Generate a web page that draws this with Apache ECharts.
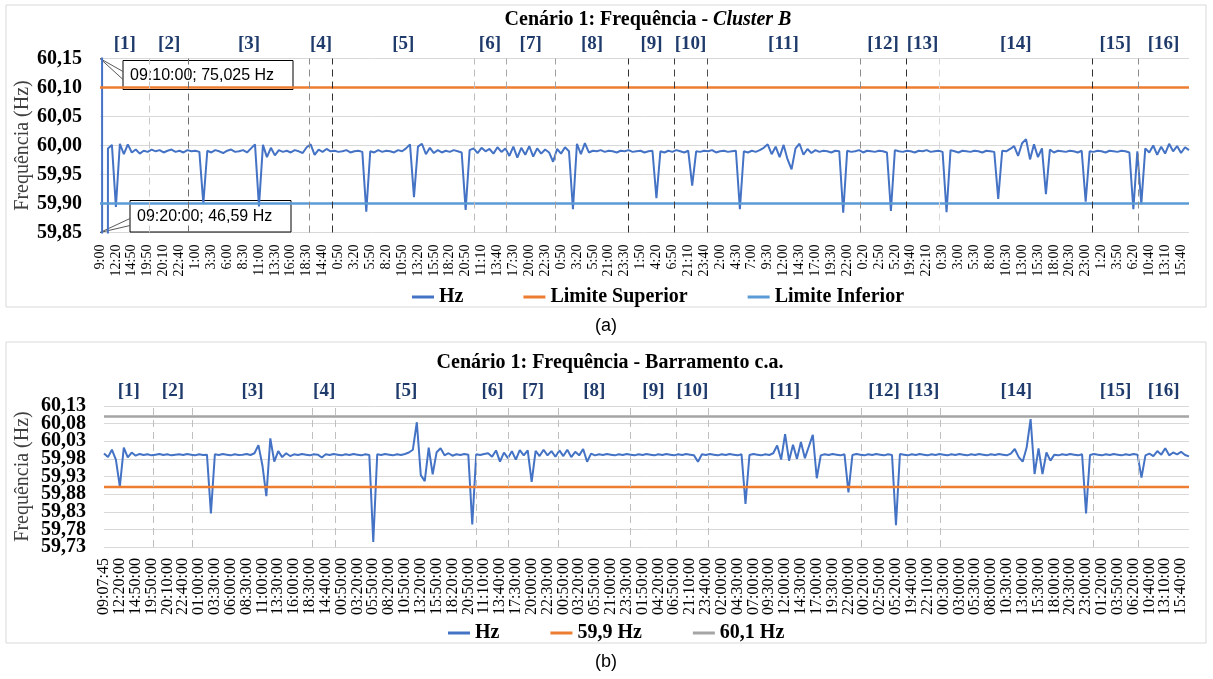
<!DOCTYPE html>
<html><head><meta charset="utf-8">
<script src="https://cdn.jsdelivr.net/npm/echarts@6/dist/echarts.min.js"></script>
<style>html,body{margin:0;padding:0;background:#fff}#c{width:1213px;height:679px}</style>
</head><body><div id="c"></div>
<script>
// ---------- DATA ----------
const tickLabelsA = ['9:00','12:20','14:50','19:50','20:10','22:40','1:00','3:30','6:00','8:30','11:00','13:30','16:00','18:30','14:40','0:50','3:20','5:50','8:20','10:50','13:20','15:50','18:20','20:50','11:10','13:40','17:30','20:00','22:30','0:50','3:20','5:50','21:00','23:30','1:50','4:20','6:50','21:10','23:40','2:00','4:30','7:00','9:30','12:00','14:30','17:00','19:30','22:00','0:20','2:50','5:20','19:40','22:10','0:30','3:00','5:30','8:00','10:30','13:00','15:30','18:00','20:30','23:00','1:20','3:50','6:20','10:40','13:10','15:40'];
const tickLabelsB = ['09:07:45','12:20:00','14:50:00','19:50:00','20:10:00','22:40:00','01:00:00','03:30:00','06:00:00','08:30:00','11:00:00','13:30:00','16:00:00','18:30:00','14:40:00','00:50:00','03:20:00','05:50:00','08:20:00','10:50:00','13:20:00','15:50:00','18:20:00','20:50:00','11:10:00','13:40:00','17:30:00','20:00:00','22:30:00','00:50:00','03:20:00','05:50:00','21:00:00','23:30:00','01:50:00','04:20:00','06:50:00','21:10:00','23:40:00','02:00:00','04:30:00','07:00:00','09:30:00','12:00:00','14:30:00','17:00:00','19:30:00','22:00:00','00:20:00','02:50:00','05:20:00','19:40:00','22:10:00','00:30:00','03:00:00','05:30:00','08:00:00','10:30:00','13:00:00','15:30:00','18:00:00','20:30:00','23:00:00','01:20:00','03:50:00','06:20:00','10:40:00','13:10:00','15:40:00'];
const samplesPerLabel = 4;
// y tick labels of panel (b), split in two interleaved sets
const yTicksB1 = [59.73, 59.83, 59.93, 60.03, 60.13];
const yTicksB2 = [59.78, 59.88, 59.98, 60.08];

// (a) Cluster B frequency (Hz)
const hzA = [
75.025,46.59,59.995,60.001,59.894,60.003,59.985,60.002,59.988,59.993,
59.986,59.991,59.989,59.993,59.990,59.992,59.988,59.991,59.993,59.989,
59.991,59.988,59.992,59.990,59.991,59.989,59.900,59.991,59.988,59.992,
59.990,59.987,59.991,59.993,59.989,59.990,59.992,59.988,59.995,60.002,
59.895,60.001,59.980,59.996,59.983,59.992,59.989,59.991,59.988,59.992,
59.990,59.987,59.997,60.002,59.984,59.993,59.989,59.994,59.990,59.991,
59.989,59.990,59.992,59.988,59.990,59.991,59.989,59.886,59.990,59.988,
59.992,59.989,59.991,59.990,59.988,59.992,59.990,59.995,60.002,59.911,
59.998,60.003,59.985,59.996,59.987,59.992,59.988,59.991,59.989,59.992,
59.990,59.988,59.889,59.992,59.995,59.987,59.996,59.990,59.994,59.986,
59.997,59.989,59.995,59.982,59.998,59.979,59.996,59.984,59.999,59.981,
59.995,59.986,59.993,59.988,59.972,59.994,59.986,59.997,59.990,59.890,
60.003,59.985,60.004,59.988,59.991,59.990,59.992,59.989,59.991,59.990,
59.988,59.991,59.990,59.992,59.989,59.990,59.991,59.988,59.990,59.991,
59.909,59.990,59.988,59.991,59.989,59.992,59.990,59.988,59.991,59.931,
59.990,59.989,59.991,59.990,59.992,59.988,59.990,59.991,59.989,59.990,
59.991,59.890,59.990,59.988,59.991,59.989,59.992,59.996,60.002,59.985,
59.998,59.980,60.001,59.976,59.959,59.995,60.003,59.984,59.994,59.987,
59.992,59.989,59.991,59.990,59.988,59.991,59.990,59.884,59.991,59.989,
59.990,59.992,59.988,59.991,59.990,59.989,59.991,59.990,59.988,59.887,
59.992,59.990,59.989,59.991,59.990,59.988,59.991,59.990,59.992,59.989,
59.990,59.991,59.989,59.885,59.992,59.990,59.988,59.991,59.990,59.989,
59.991,59.990,59.988,59.991,59.990,59.989,59.908,59.991,59.990,59.994,
59.999,59.982,60.004,60.011,59.976,60.002,59.980,59.995,59.916,59.993,
59.988,59.991,59.990,59.989,59.991,59.990,59.988,59.991,59.903,59.990,
59.989,59.991,59.990,59.988,59.991,59.990,59.989,59.991,59.990,59.988,
59.890,59.990,59.899,59.995,59.988,60.000,59.984,59.998,59.986,60.003,
59.990,59.999,59.987,59.997,59.992];

// (b) AC bus frequency (Hz)
const hzB = [
59.995,59.985,60.006,59.978,59.901,60.012,59.984,59.998,59.989,59.994,
59.991,59.993,59.990,59.992,59.994,59.991,59.993,59.990,59.992,59.993,
59.991,59.994,59.992,59.990,59.993,59.991,59.992,59.825,59.993,59.991,
59.994,59.992,59.990,59.993,59.991,59.992,59.994,59.991,59.996,60.019,
59.962,59.874,60.038,59.972,60.002,59.985,59.996,59.988,59.993,59.991,
59.994,59.992,59.990,59.993,59.992,59.984,59.993,59.991,59.994,59.992,
59.990,59.993,59.991,59.994,59.992,59.990,59.993,59.991,59.744,59.993,
59.991,59.994,59.992,59.990,59.993,59.991,59.994,59.998,60.006,60.084,
59.934,59.917,60.012,59.936,59.999,60.010,59.990,59.996,59.989,59.993,
59.991,59.994,59.992,59.794,59.993,59.991,59.994,59.996,59.986,60.004,
59.972,59.998,59.982,60.002,59.978,60.005,59.990,60.004,59.915,60.003,
59.988,60.006,59.990,60.002,59.986,60.004,59.988,60.006,59.985,60.000,
59.990,60.008,59.972,59.995,59.990,59.993,59.991,59.994,59.992,59.990,
59.993,59.991,59.994,59.992,59.990,59.993,59.991,59.994,59.992,59.990,
59.993,59.991,59.994,59.992,59.990,59.993,59.991,59.994,59.992,59.990,
59.972,59.993,59.991,59.994,59.992,59.990,59.993,59.991,59.994,59.992,
59.990,59.993,59.852,59.991,59.994,59.992,59.990,59.993,59.991,59.996,
60.018,59.978,60.050,59.975,60.020,59.980,60.028,59.982,60.015,60.048,
59.925,59.990,59.993,59.991,59.994,59.992,59.990,59.993,59.885,59.991,
59.994,59.992,59.990,59.993,59.991,59.994,59.992,59.990,59.993,59.991,
59.792,59.994,59.992,59.990,59.993,59.991,59.994,59.992,59.990,59.993,
59.991,59.994,59.992,59.990,59.993,59.991,59.994,59.992,59.990,59.993,
59.991,59.994,59.992,59.990,59.993,59.991,59.994,59.992,59.990,59.995,
60.008,59.985,59.972,60.012,60.093,59.937,60.010,59.937,59.998,59.975,
59.992,59.990,59.993,59.991,59.994,59.992,59.990,59.993,59.825,59.991,
59.994,59.992,59.990,59.993,59.991,59.994,59.992,59.990,59.993,59.991,
59.994,59.992,59.927,59.990,59.995,59.988,60.002,59.992,60.010,59.990,
59.998,59.993,60.000,59.991,59.987];

const limiteSuperior = 60.10, limiteInferior = 59.90;
const lim599 = 59.9, lim601 = 60.1;
const scenarioNames = ['[1]','[2]','[3]','[4]','[5]','[6]','[7]','[8]','[9]','[10]','[11]','[12]','[13]','[14]','[15]','[16]'];
// scenario boundaries, in sample-index units
const scenarioBounds = [12.5, 22.3, 52.7, 58.5, 94.1, 102.1, 114.6, 133.0, 144.5, 152.7, 191.2, 202.8, 211.1, 249.7, 261.2];
const annotations = [
  {idx: 0, text: '09:10:00; 75,025 Hz'},
  {idx: 0, text: '09:20:00; 46,59 Hz'}
];

// ---------- STYLE ----------
const boundColorsA = ['#C8C8C8','#6E6E6E','#8C8C8C','#303030','#BDBDBD','#A8A8A8','#A0A0A0','#303030','#404040','#505050','#8C8C8C','#303030','#D9D9D9','#303030','#8C8C8C'];
const SERIF = 'Liberation Serif';
const N = hzA.length;
const K = samplesPerLabel;
const fmtY = v => Number(v).toFixed(2).replace('.', ',');

function xAxisCfg(gi, labels, fs, margin) {
  return {
    type: 'value', gridIndex: gi, min: 0, max: N - 1, interval: K,
    axisLine: {show: false}, axisTick: {show: false}, splitLine: {show: false},
    axisLabel: {
      rotate: 90, margin: margin, fontFamily: SERIF, fontSize: fs, color: '#000',
      formatter: v => { const i = v / K; return (Number.isInteger(i) && labels[i] !== undefined) ? labels[i] : ''; }
    }
  };
}
const yLabelStyle = {margin: 18, fontFamily: SERIF, fontWeight: 'bold', fontSize: 20, color: '#000', formatter: fmtY,
  showMinLabel: true, showMaxLabel: true, hideOverlap: false};
function yAxisCfg(gi, min, max, nameGap, customValues) {
  const lbl = Object.assign({}, yLabelStyle);
  if (customValues) lbl.customValues = customValues;
  return {
    type: 'value', gridIndex: gi, position: 'left', min: min, max: max, interval: 0.05,
    axisLine: {show: false}, axisTick: {show: false},
    splitLine: {lineStyle: {color: '#D9D9D9', width: 1}},
    axisLabel: lbl,
    name: 'Frequência (Hz)', nameLocation: 'middle', nameRotate: 90, nameGap: nameGap, nameMoveOverlap: false,
    nameTextStyle: {fontFamily: SERIF, fontSize: 20, color: '#404040'}
  };
}
function marks(colors) {
  return {
    markLine: {
      silent: true, symbol: ['none', 'none'], label: {show: false}, animation: false,
      lineStyle: {type: [7, 5], width: 1, color: '#BFBFBF'},
      data: scenarioBounds.map((b, i) => ({xAxis: b, lineStyle: {color: colors ? colors[i] : '#BFBFBF'}}))
    },
    markArea: {
      silent: true, itemStyle: {color: 'rgba(0,0,0,0)'},
      label: {show: true, position: 'top', distance: 5, fontFamily: SERIF, fontWeight: 'bold', fontSize: 19, color: '#1F3B6B'},
      data: scenarioNames.map((n, i) => [
        {name: n, xAxis: i === 0 ? 0 : scenarioBounds[i - 1]},
        {xAxis: i === scenarioNames.length - 1 ? N - 1 : scenarioBounds[i]}
      ])
    }
  };
}
const flat = (v) => [[0, v], [N - 1, v]];
const lineSeries = (name, xi, data, color, width, extra) => Object.assign({
  name: name, type: 'line', xAxisIndex: xi, yAxisIndex: xi, data: data, symbol: 'none',
  lineStyle: {color: color, width: width}, itemStyle: {color: color}, animation: false
}, extra || {});

const chart = echarts.init(document.getElementById('c'), null, {renderer: 'canvas'});
const legendText = {fontFamily: SERIF, fontWeight: 'bold', fontSize: 20, color: '#000'};
const yAltB = {
  type: 'value', gridIndex: 1, position: 'left', offset: 0, min: 59.73, max: 60.13, interval: 0.05,
  axisLine: {show: false}, axisTick: {show: false}, splitLine: {show: false},
  axisLabel: Object.assign({}, yLabelStyle, {customValues: yTicksB2})
};
chart.setOption({
  backgroundColor: '#fff',
  animation: false,
  grid: [
    {left: 100, top: 58.5, width: 1089, height: 174, outerBoundsMode: 'none', containLabel: false},
    {left: 104, top: 406, width: 1085, height: 141, outerBoundsMode: 'none', containLabel: false}
  ],
  xAxis: [xAxisCfg(0, tickLabelsA, 14, 12), xAxisCfg(1, tickLabelsB, 16, 11)],
  yAxis: [yAxisCfg(0, 59.85, 60.15, 67), yAxisCfg(1, 59.73, 60.13, 71, yTicksB1), yAltB],
  legend: [
    {data: ['Hz', 'Limite Superior', 'Limite Inferior'], left: 412, top: 287, padding: 0, icon: 'rect', itemWidth: 22, itemHeight: 3, itemGap: 60, textStyle: legendText, selectedMode: false},
    {data: ['Hz', '59,9 Hz', '60,1 Hz'], left: 448, top: 623, padding: 0, icon: 'rect', itemWidth: 22, itemHeight: 3, itemGap: 51, textStyle: legendText, selectedMode: false}
  ],
  series: [
    lineSeries('Hz', 0, hzA.map((v, i) => [i, v]), '#4472C4', 2, marks(boundColorsA)),
    lineSeries('Limite Superior', 0, flat(limiteSuperior), '#ED7D31', 2.5),
    lineSeries('Limite Inferior', 0, flat(limiteInferior), '#5B9BD5', 2.5),
    lineSeries('Hz', 1, hzB.map((v, i) => [i, v]), '#4472C4', 2, marks(null)),
    lineSeries('59,9 Hz', 1, flat(lim599), '#ED7D31', 2.5),
    lineSeries('60,1 Hz', 1, flat(lim601), '#A5A5A5', 2.5)
  ]
});

// annotations, borders, titles
const pTop = chart.convertToPixel({gridIndex: 0}, [annotations[0].idx, 60.15]);
const pBot = chart.convertToPixel({gridIndex: 0}, [annotations[1].idx, 59.85]);
const boxFont = '16px "Liberation Sans"';
chart.setOption({
  graphic: [
    {type: 'rect', z: -1, shape: {x: 6, y: 5, width: 1200, height: 302}, style: {fill: 'none', stroke: '#D9D9D9', lineWidth: 1}},
    {type: 'rect', z: -1, shape: {x: 6, y: 342, width: 1200, height: 301}, style: {fill: 'none', stroke: '#D9D9D9', lineWidth: 1}},
    {type: 'text', x: 648, y: 20, style: {text: '{a|Cenário 1: Frequência - }{b|Cluster B}', align: 'center', verticalAlign: 'middle',
      rich: {a: {fontFamily: SERIF, fontWeight: 'bold', fontSize: 20, fill: '#000'}, b: {fontFamily: SERIF, fontWeight: 'bold', fontStyle: 'italic', fontSize: 20, fill: '#000'}}}},
    {type: 'text', x: 610, y: 363, style: {text: 'Cenário 1: Frequência - Barramento c.a.', align: 'center', verticalAlign: 'middle', font: 'bold 20px "Liberation Serif"', fill: '#000'}},
    {type: 'text', x: 606, y: 326, style: {text: '(a)', align: 'center', verticalAlign: 'middle', font: '18px "Liberation Sans"', fill: '#000'}},
    {type: 'text', x: 606, y: 662, style: {text: '(b)', align: 'center', verticalAlign: 'middle', font: '18px "Liberation Sans"', fill: '#000'}},
    // box 1
    {type: 'rect', z: 1, shape: {x: pTop[0] + 23, y: pTop[1] + 2, width: 170, height: 29}, style: {fill: '#fff', stroke: '#000', lineWidth: 1}},
    {type: 'polyline', z: 1, shape: {points: [[pTop[0] + 23, pTop[1] + 13], [pTop[0], pTop[1]], [pTop[0] + 23, pTop[1] + 21]]}, style: {stroke: '#595959', lineWidth: 1, fill: 'none'}},
    {type: 'text', z: 1, x: pTop[0] + 30, y: pTop[1] + 17, style: {text: annotations[0].text, verticalAlign: 'middle', font: boxFont, fill: '#000'}},
    // box 2
    {type: 'rect', z: 1, shape: {x: pBot[0] + 30, y: pBot[1] - 32, width: 161, height: 31.5}, style: {fill: '#fff', stroke: '#000', lineWidth: 1}},
    {type: 'polyline', z: 1, shape: {points: [[pBot[0] + 30, pBot[1] - 14], [pBot[0], pBot[1]], [pBot[0] + 30, pBot[1] - 7]]}, style: {stroke: '#595959', lineWidth: 1, fill: 'none'}},
    {type: 'text', z: 1, x: pBot[0] + 37, y: pBot[1] - 16, style: {text: annotations[1].text, verticalAlign: 'middle', font: boxFont, fill: '#000'}}
  ]
});
</script></body></html>
